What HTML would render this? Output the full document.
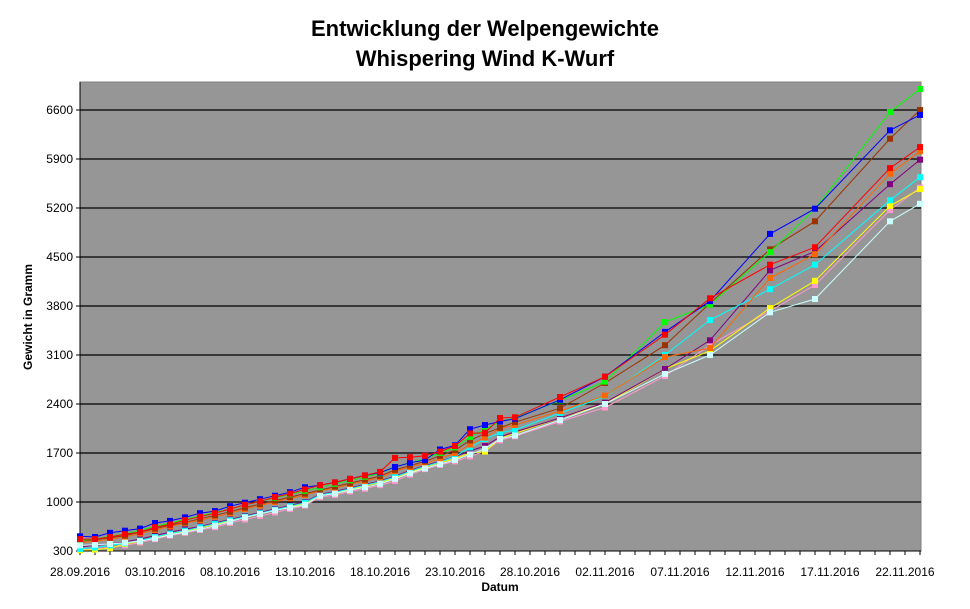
<!DOCTYPE html>
<html><head><meta charset="utf-8">
<style>
body{margin:0;background:#fff;width:970px;height:604px;overflow:hidden;font-family:"Liberation Sans",Arial,sans-serif;}
svg text{font-family:"Liberation Sans",Arial,sans-serif;}
</style></head>
<body>
<svg id="chart" width="970" height="604" xmlns="http://www.w3.org/2000/svg">
<text x="485" y="36" text-anchor="middle" font-size="22" font-weight="bold">Entwicklung der Welpengewichte</text>
<text x="485" y="66" text-anchor="middle" font-size="22" font-weight="bold">Whispering Wind K-Wurf</text>
<rect x="80" y="82" width="841" height="469" fill="#969696" stroke="#808080" stroke-width="1"/>
<g id="grid"></g>
<g id="axes"></g>
<g id="series"></g>
<text x="500" y="591" text-anchor="middle" font-size="12" font-weight="bold">Datum</text>
<text x="32" y="317" text-anchor="middle" font-size="12" font-weight="bold" transform="rotate(-90 32 317)">Gewicht in Gramm</text>
</svg>
<script>
const days = [0,1,2,3,4,5,6,7,8,9,10,11,12,13,14,15,16,17,18,19,20,21,22,23,24,25,26,27,28,29,32,35,39,42,46,49,54,56];
const yTicks = [300,1000,1700,2400,3100,3800,4500,5200,5900,6600];
const xTickLabels = ["28.09.2016","03.10.2016","08.10.2016","13.10.2016","18.10.2016","23.10.2016","28.10.2016","02.11.2016","07.11.2016","12.11.2016","17.11.2016","22.11.2016"];
const pink = [320,330,350,380,420,470,520,560,600,640,700,750,800,850,900,950,1070,1100,1150,1190,1240,1300,1390,1470,1530,1580,1650,1730,1880,1940,2150,2350,2800,3240,3730,4100,5170,5490];
const yellow = [310,320,340,400,440,490,540,580,630,680,730,780,830,880,930,980,1090,1130,1180,1230,1280,1340,1420,1500,1560,1620,1700,1720,1910,1980,2200,2400,2900,3160,3770,4160,5230,5470];
const purple = [360,380,400,430,470,520,570,610,650,700,750,800,850,900,950,1000,1110,1150,1200,1250,1300,1370,1450,1520,1580,1650,1730,1800,1930,2000,2200,2420,2900,3310,4310,4580,5540,5890];
const cyan = [330,350,380,410,450,500,550,590,640,690,740,790,840,890,940,990,1100,1140,1190,1240,1290,1360,1440,1510,1570,1650,1780,1900,1990,2030,2270,2510,3100,3600,4040,4390,5310,5640];
const orange = [420,440,470,500,550,600,650,700,740,790,840,900,950,1000,1050,1100,1160,1200,1250,1300,1350,1440,1500,1550,1620,1700,1820,1920,2050,2100,2300,2520,3070,3200,4200,4540,5690,6010];
const brown = [440,460,490,520,570,620,670,710,760,810,860,920,970,1020,1070,1120,1170,1220,1270,1320,1370,1460,1520,1580,1660,1740,1880,1980,2060,2140,2340,2700,3240,3840,4610,5010,6190,6600];
const green = [450,470,510,540,600,650,700,750,800,850,900,960,1010,1060,1110,1160,1210,1260,1310,1360,1410,1500,1560,1620,1700,1780,1930,2040,2150,2200,2450,2720,3570,3820,4570,5190,6570,6900];
const blue = [510,500,560,590,620,700,730,780,840,870,940,990,1040,1090,1140,1210,1240,1280,1330,1380,1420,1500,1560,1600,1750,1810,2040,2100,2150,2190,2460,2790,3430,3870,4830,5190,6310,6530];
const lightcyan = [380,390,400,420,440,480,530,570,610,660,720,780,830,880,920,960,1090,1120,1170,1210,1260,1330,1410,1480,1540,1600,1680,1760,1900,1950,2170,2400,2830,3100,3710,3900,5010,5260];
const red = [470,470,500,540,570,640,680,740,790,840,900,960,1010,1070,1120,1180,1240,1280,1330,1380,1430,1630,1640,1660,1720,1800,1980,1990,2200,2210,2500,2790,3390,3910,4390,4640,5770,6070];

const NS="http://www.w3.org/2000/svg";
const X0=80,X1=921,YB=551,YT=82;
function xs(d){return X0+d*15;}
function ys(v){return YB-(v-300)*0.07;}
function mk(tag,attrs,parent){const e=document.createElementNS(NS,tag);for(const k in attrs)e.setAttribute(k,attrs[k]);parent.appendChild(e);return e;}
const grid=document.getElementById('grid'),axes=document.getElementById('axes'),ser=document.getElementById('series');
yTicks.forEach(t=>{
  if(t>300){const l=mk('line',{x1:X0,x2:X1,y1:ys(t),y2:ys(t),stroke:'#000','stroke-width':1.3},grid);
  
  }
  const tk=mk('line',{x1:X0-4,x2:X0,y1:ys(t),y2:ys(t),stroke:'#000'},axes);
  
  
  const tx=mk('text',{x:X0-7,y:ys(t)+4,'text-anchor':'end','font-size':12},axes);
  
  
  tx.textContent=t;
});
const ya=mk('line',{x1:X0,x2:X0,y1:YT,y2:YB,stroke:'#000','stroke-width':1},axes);


const xa=mk('line',{x1:X0,x2:X1,y1:YB,y2:YB,stroke:'#000','stroke-width':1},axes);


for(let d=0;d<=56;d++){
  const tk=mk('line',{x1:xs(d),x2:xs(d),y1:YB,y2:YB+4,stroke:'#000'},axes);
  
  
}
xTickLabels.forEach((lab,i)=>{
  const tx=mk('text',{x:xs(i*5),y:576,'text-anchor':'middle','font-size':12},axes);
  
  
  tx.textContent=lab;
});
const seriesList=[["pink",pink,"#FF99CC"],["yellow",yellow,"#FFFF00"],["purple",purple,"#800080"],["cyan",cyan,"#00FFFF"],["orange",orange,"#FF6600"],["brown",brown,"#993300"],["green",green,"#00FF00"],["blue",blue,"#0000FF"],["lightcyan",lightcyan,"#CCFFFF"],["red",red,"#FF0000"]];
seriesList.forEach(([nm,vals,col])=>{
  const g=mk('g',{},ser);
  
  
  const pts=vals.map((v,i)=>xs(days[i])+','+ys(v)).join(' ');
  const pl=mk('polyline',{points:pts,fill:'none',stroke:col,'stroke-width':1},g);
  
  
  vals.forEach((v,i)=>{
    const r=mk('rect',{x:xs(days[i])-3,y:ys(v)-3,width:6,height:6,fill:col},g);
    
    
  });
});
</script>
</body></html>
